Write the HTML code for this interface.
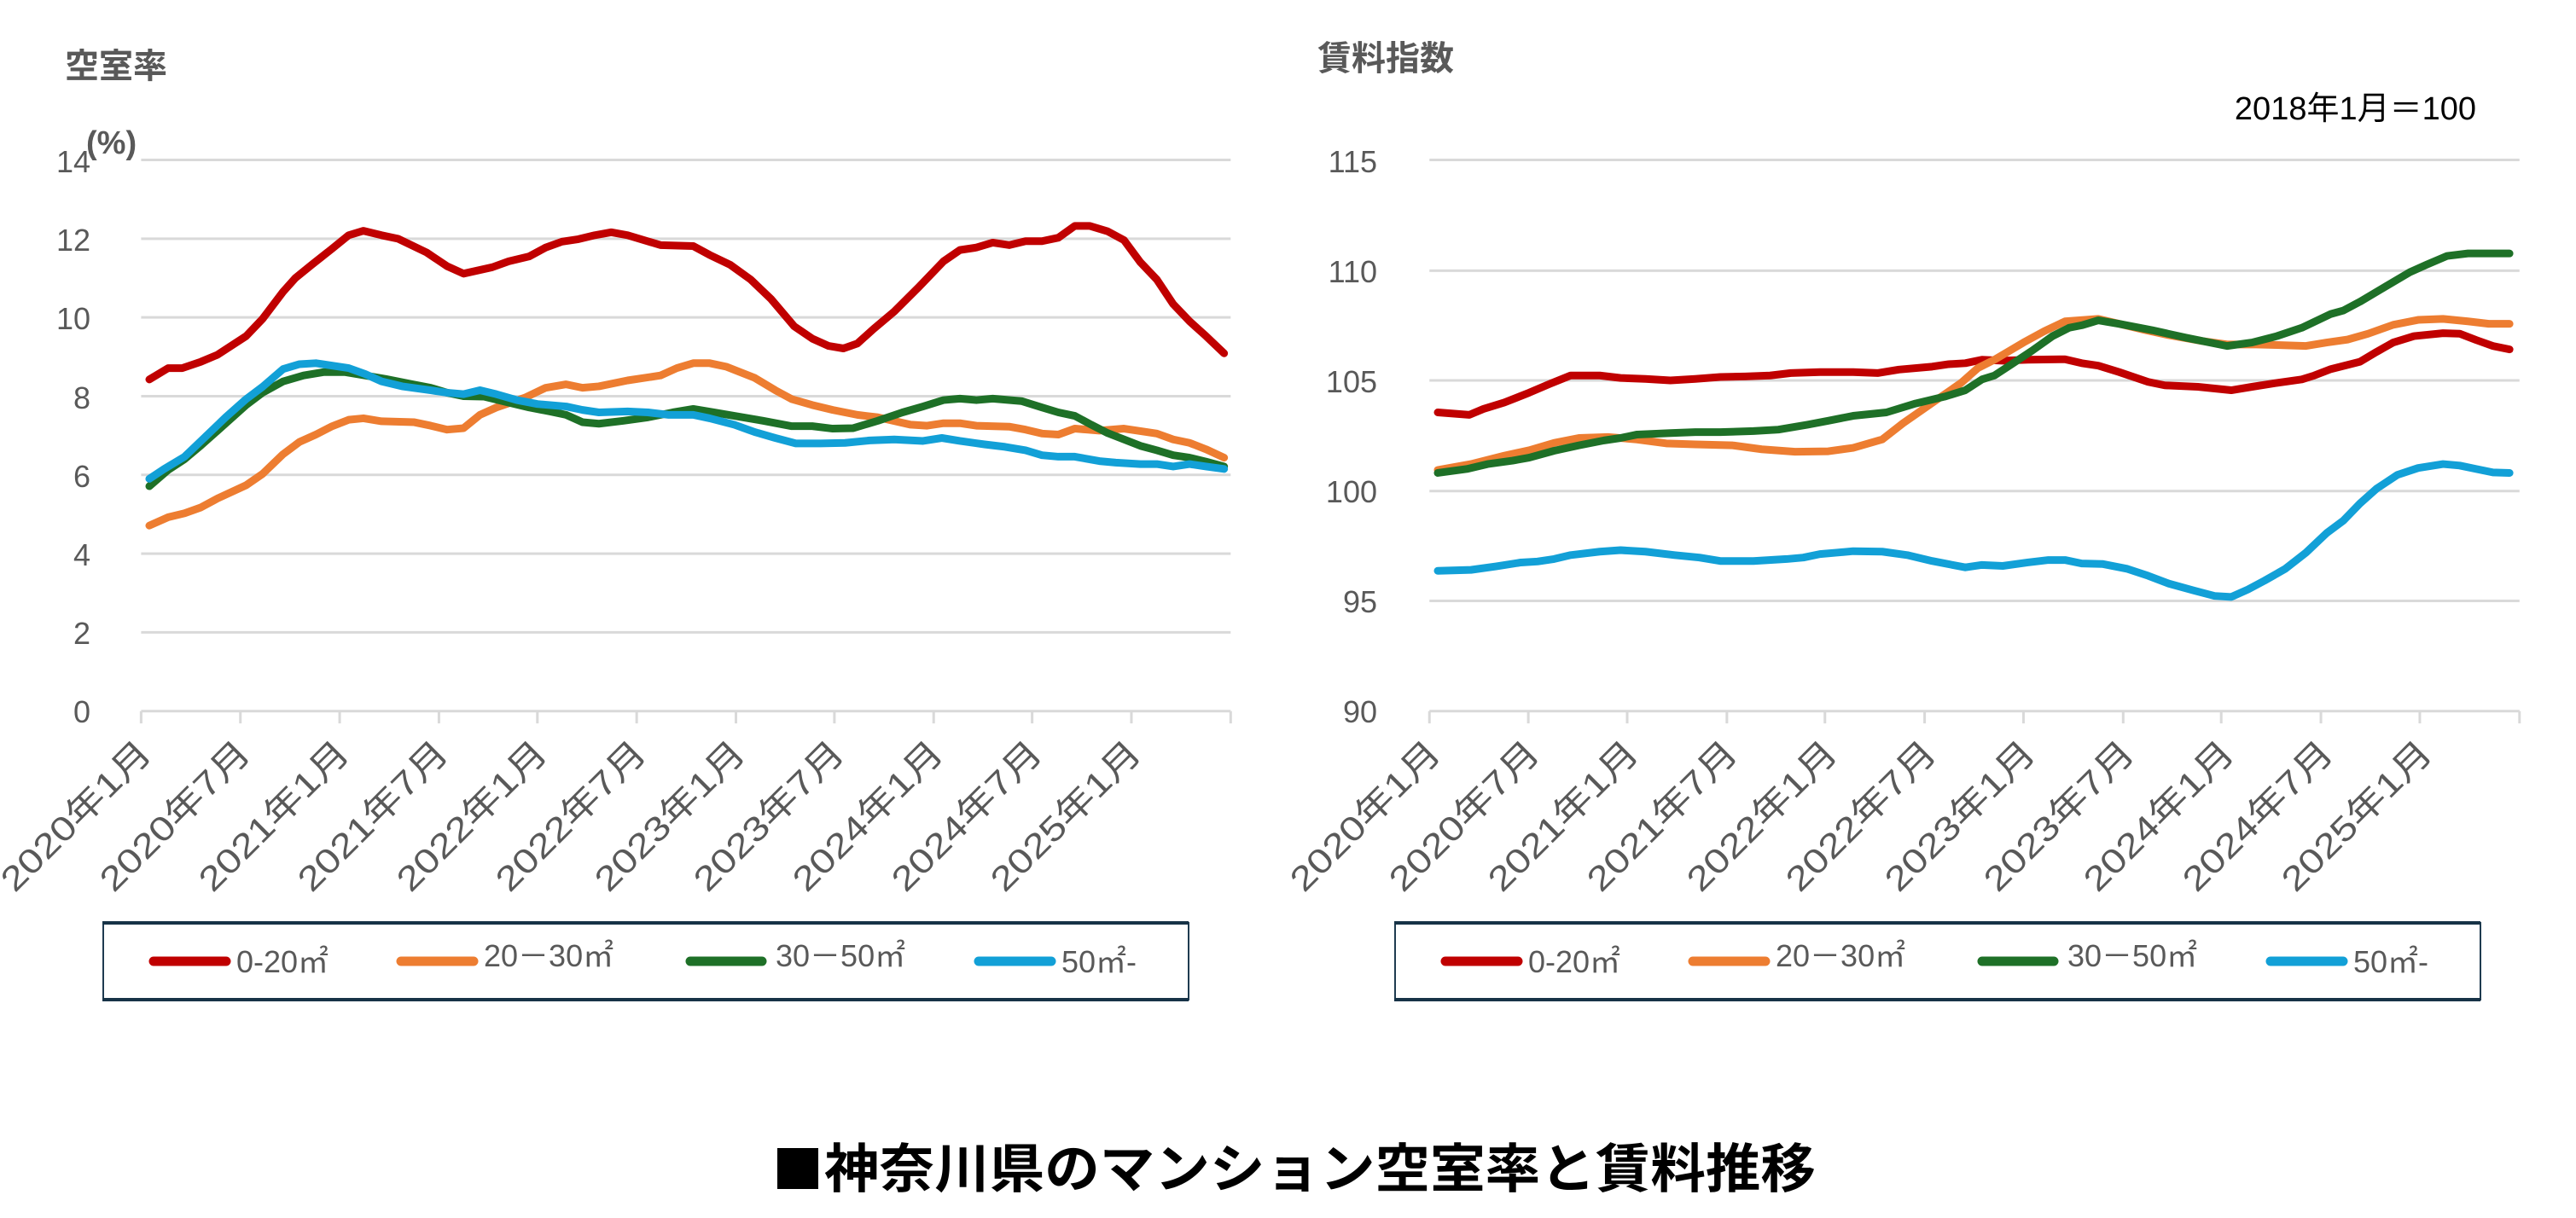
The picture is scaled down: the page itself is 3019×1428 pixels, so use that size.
<!DOCTYPE html>
<html><head><meta charset="utf-8"><style>
html,body{margin:0;padding:0;background:#fff;}
svg{display:block;}
text{font-family:"Liberation Sans","Noto Sans CJK JP",sans-serif;}
</style></head><body>
<svg width="3019" height="1428" viewBox="0 0 3019 1428" xmlns="http://www.w3.org/2000/svg">
<rect width="3019" height="1428" fill="#fff"/>
<text x="76" y="91" font-size="40" font-weight="bold" fill="#595959">空室率</text>
<text x="101" y="180" font-size="38" font-weight="bold" fill="#595959">(%)</text>
<text x="1544" y="82" font-size="40" font-weight="bold" fill="#595959">賃料指数</text>
<text x="2902" y="140" font-size="38" fill="#000" text-anchor="end">2018年1月＝100</text>

<svg x="0" y="-4" width="1500" height="900" viewBox="0 0 1560 1560" preserveAspectRatio="none" overflow="visible">
<g stroke="#d9d9d9" stroke-width="3" fill="none">
<path vector-effect="non-scaling-stroke" d="M172 332H1500M172 492H1500M172 652H1500M172 812H1500M172 972H1500M172 1132H1500M172 1292H1500M172 1452H1500"/>
<path vector-effect="non-scaling-stroke" d="M172 1452v25M293 1452v25M414 1452v25M535 1452v25M655 1452v25M776 1452v25M897 1452v25M1017 1452v25M1138 1452v25M1258 1452v25M1379 1452v25M1500 1452v25"/>
</g>
<g fill="none" stroke-width="9" stroke-linejoin="round" stroke-linecap="round">
<polyline vector-effect="non-scaling-stroke" stroke="#ed7d31" points="182,1075 205,1058 225,1050 245,1038 265,1020 300,993 320,970 345,930 365,905 385,890 405,873 425,860 443,857 465,863 505,865 525,872 545,880 565,877 585,850 605,835 640,815 665,795 690,788 710,795 730,792 765,780 805,770 825,755 845,745 865,745 885,752 920,775 945,800 965,818 990,830 1015,840 1045,850 1070,855 1110,870 1130,872 1150,867 1170,867 1190,872 1230,874 1250,880 1270,888 1290,890 1310,878 1340,882 1370,878 1410,888 1430,900 1450,907 1470,920 1492,937"/>
<polyline vector-effect="non-scaling-stroke" stroke="#1e7027" points="182,995 205,962 225,940 245,912 270,875 300,830 320,805 345,782 370,770 395,763 420,763 445,770 470,777 500,787 525,795 545,805 565,812 590,813 620,825 645,835 670,843 690,850 710,865 730,868 760,862 790,855 820,845 845,838 870,845 895,852 930,862 965,873 990,873 1015,878 1040,877 1070,862 1100,845 1125,833 1150,820 1170,817 1190,820 1210,817 1245,822 1270,835 1290,845 1310,852 1330,870 1350,887 1370,900 1390,913 1410,922 1430,932 1450,937 1470,945 1492,955"/>
<polyline vector-effect="non-scaling-stroke" stroke="#12a0d7" points="182,980 200,960 225,935 250,895 275,855 300,818 320,793 345,757 365,747 385,745 405,750 425,755 445,767 465,782 490,792 525,800 545,805 565,808 585,800 605,808 630,820 655,828 690,833 710,840 730,845 765,843 790,845 815,850 845,850 865,857 895,870 920,885 945,897 970,908 1000,908 1030,907 1060,902 1090,900 1125,903 1148,897 1170,903 1200,910 1225,915 1250,922 1270,932 1290,935 1310,935 1340,944 1360,947 1390,950 1410,950 1430,955 1450,950 1470,955 1492,960"/>
<polyline vector-effect="non-scaling-stroke" stroke="#c00000" points="182,778 205,755 222,755 245,742 265,728 300,690 320,655 345,600 360,572 380,545 405,512 425,485 443,476 465,485 485,492 520,520 545,548 565,563 600,550 620,538 645,528 665,510 685,498 705,493 725,485 745,479 765,485 805,505 845,507 865,525 890,545 915,575 940,615 968,670 990,695 1010,710 1028,715 1045,705 1065,675 1090,640 1120,590 1150,538 1170,515 1190,510 1210,500 1230,505 1250,497 1270,497 1290,490 1310,466 1328,466 1350,477 1370,495 1390,540 1410,575 1430,625 1450,660 1470,690 1492,725"/>
</g>
</svg>
<g font-size="36" fill="#595959" text-anchor="end">
<text x="106" y="202">14</text><text x="106" y="294">12</text><text x="106" y="386">10</text><text x="106" y="479">8</text><text x="106" y="571">6</text><text x="106" y="663">4</text><text x="106" y="755">2</text><text x="106" y="847">0</text>
</g>
<g font-size="40" fill="#595959" text-anchor="end">
<text transform="translate(180,885) rotate(-45)" textLength="230" lengthAdjust="spacingAndGlyphs">2020年1月</text>
<text transform="translate(296,885) rotate(-45)" textLength="230" lengthAdjust="spacingAndGlyphs">2020年7月</text>
<text transform="translate(412,885) rotate(-45)" textLength="230" lengthAdjust="spacingAndGlyphs">2021年1月</text>
<text transform="translate(528,885) rotate(-45)" textLength="230" lengthAdjust="spacingAndGlyphs">2021年7月</text>
<text transform="translate(644,885) rotate(-45)" textLength="230" lengthAdjust="spacingAndGlyphs">2022年1月</text>
<text transform="translate(760,885) rotate(-45)" textLength="230" lengthAdjust="spacingAndGlyphs">2022年7月</text>
<text transform="translate(876,885) rotate(-45)" textLength="230" lengthAdjust="spacingAndGlyphs">2023年1月</text>
<text transform="translate(992,885) rotate(-45)" textLength="230" lengthAdjust="spacingAndGlyphs">2023年7月</text>
<text transform="translate(1108,885) rotate(-45)" textLength="230" lengthAdjust="spacingAndGlyphs">2024年1月</text>
<text transform="translate(1224,885) rotate(-45)" textLength="230" lengthAdjust="spacingAndGlyphs">2024年7月</text>
<text transform="translate(1340,885) rotate(-45)" textLength="230" lengthAdjust="spacingAndGlyphs">2025年1月</text>
</g>

<svg x="1500" y="-4" width="1519" height="900" viewBox="0 0 1560 1560" preserveAspectRatio="none" overflow="visible">
<g stroke="#d9d9d9" stroke-width="3" fill="none">
<path vector-effect="non-scaling-stroke" d="M180 332H1492M180 557H1492M180 780H1492M180 1005H1492M180 1228H1492M180 1452H1492"/>
<path vector-effect="non-scaling-stroke" d="M180 1452v25M299 1452v25M418 1452v25M538 1452v25M656 1452v25M776 1452v25M895 1452v25M1015 1452v25M1133 1452v25M1253 1452v25M1372 1452v25M1492 1452v25"/>
</g>
<g fill="none" stroke-width="9" stroke-linejoin="round" stroke-linecap="round">
<polyline vector-effect="non-scaling-stroke" stroke="#12a0d7" points="190,1167 230,1165 260,1158 290,1150 310,1148 330,1143 350,1135 385,1128 410,1125 440,1128 475,1135 505,1140 530,1147 570,1147 610,1143 630,1140 650,1133 670,1130 690,1127 725,1128 755,1135 785,1147 825,1160 845,1155 870,1157 900,1150 925,1145 945,1145 965,1152 990,1153 1020,1163 1045,1177 1070,1193 1100,1207 1125,1218 1145,1220 1165,1205 1185,1187 1210,1163 1235,1130 1260,1090 1280,1065 1300,1030 1320,1000 1345,972 1370,958 1400,950 1420,953 1440,960 1460,967 1480,968"/>
<polyline vector-effect="non-scaling-stroke" stroke="#c00000" points="190,845 228,850 245,838 270,825 300,805 325,787 350,770 385,770 410,775 440,777 470,780 500,777 530,773 560,772 590,770 615,765 650,763 690,763 720,765 745,758 785,752 805,747 825,745 845,738 870,740 900,738 945,737 965,745 985,750 1010,763 1045,783 1065,790 1105,793 1145,800 1170,793 1200,785 1230,778 1245,770 1265,757 1300,742 1320,722 1340,703 1365,690 1400,684 1420,685 1440,698 1460,710 1480,717"/>
<polyline vector-effect="non-scaling-stroke" stroke="#ed7d31" points="190,962 230,950 270,933 300,922 330,907 360,897 395,895 430,900 465,908 500,910 545,912 580,920 620,925 660,924 690,917 725,900 750,867 790,820 820,785 840,755 860,738 895,703 920,680 945,660 985,655 1010,665 1040,677 1070,688 1110,700 1140,707 1175,707 1200,708 1235,710 1260,703 1285,697 1310,685 1340,667 1370,657 1400,655 1430,660 1455,665 1480,665"/>
<polyline vector-effect="non-scaling-stroke" stroke="#1e7027" points="190,968 225,960 250,950 280,943 300,937 330,923 360,912 390,902 410,897 430,890 470,887 500,885 530,885 570,883 600,880 635,870 660,862 690,852 730,845 765,827 800,813 825,800 845,778 860,770 880,748 905,720 930,690 950,673 965,668 985,658 1010,665 1050,678 1090,693 1140,710 1170,703 1200,690 1230,673 1265,645 1280,638 1300,620 1330,590 1360,560 1380,545 1405,527 1430,522 1460,522 1480,522"/>
</g>
</svg>
<g font-size="36" fill="#595959" text-anchor="end">
<text x="1614" y="202">115</text><text x="1614" y="331">110</text><text x="1614" y="460">105</text><text x="1614" y="589">100</text><text x="1614" y="718">95</text><text x="1614" y="847">90</text>
</g>
<g font-size="40" fill="#595959" text-anchor="end">
<text transform="translate(1691,885) rotate(-45)" textLength="230" lengthAdjust="spacingAndGlyphs">2020年1月</text>
<text transform="translate(1807,885) rotate(-45)" textLength="230" lengthAdjust="spacingAndGlyphs">2020年7月</text>
<text transform="translate(1923,885) rotate(-45)" textLength="230" lengthAdjust="spacingAndGlyphs">2021年1月</text>
<text transform="translate(2039,885) rotate(-45)" textLength="230" lengthAdjust="spacingAndGlyphs">2021年7月</text>
<text transform="translate(2156,885) rotate(-45)" textLength="230" lengthAdjust="spacingAndGlyphs">2022年1月</text>
<text transform="translate(2272,885) rotate(-45)" textLength="230" lengthAdjust="spacingAndGlyphs">2022年7月</text>
<text transform="translate(2388,885) rotate(-45)" textLength="230" lengthAdjust="spacingAndGlyphs">2023年1月</text>
<text transform="translate(2504,885) rotate(-45)" textLength="230" lengthAdjust="spacingAndGlyphs">2023年7月</text>
<text transform="translate(2621,885) rotate(-45)" textLength="230" lengthAdjust="spacingAndGlyphs">2024年1月</text>
<text transform="translate(2737,885) rotate(-45)" textLength="230" lengthAdjust="spacingAndGlyphs">2024年7月</text>
<text transform="translate(2853,885) rotate(-45)" textLength="230" lengthAdjust="spacingAndGlyphs">2025年1月</text>
</g>

<g id="lg">
<rect x="121" y="1082" width="1272" height="90" fill="#fff" stroke="#1f3b50" stroke-width="2"/>
<line x1="120" y1="1082" x2="1393" y2="1082" stroke="#173347" stroke-width="4"/>
<line x1="120" y1="1172" x2="1393" y2="1172" stroke="#173347" stroke-width="4"/>
<g stroke-width="11" stroke-linecap="round">
<line x1="180" y1="1127" x2="265" y2="1127" stroke="#c00000"/>
<line x1="470" y1="1127" x2="555" y2="1127" stroke="#ed7d31"/>
<line x1="809" y1="1127" x2="893" y2="1127" stroke="#1e7027"/>
<line x1="1147" y1="1127" x2="1232" y2="1127" stroke="#12a0d7"/>
</g>
<g font-size="36" fill="#595959">
<text x="277" y="1140">0-20㎡</text>
<text x="567" y="1133">20－30㎡</text>
<text x="909" y="1133">30－50㎡</text>
<text x="1244" y="1140">50㎡-</text>
</g>
</g>
<use href="#lg" x="1514" y="0"/>

<rect x="911" y="1346" width="48" height="48" fill="#000"/>
<text x="966" y="1392" font-size="62" font-weight="bold" fill="#000" textLength="1162" lengthAdjust="spacingAndGlyphs">神奈川県のマンション空室率と賃料推移</text>
</svg>
</body></html>
